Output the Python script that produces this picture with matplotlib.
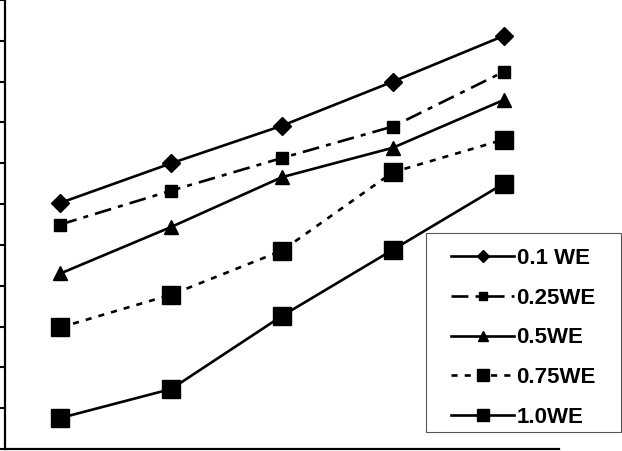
import matplotlib.pyplot as plt
from matplotlib.patches import Rectangle

plt.rcParams['font.family'] = ['Liberation Sans', 'DejaVu Sans']

x = [1, 2, 3, 4, 5]
labels = ['0.1 WE', '0.25WE', '0.5WE', '0.75WE', '1.0WE']
we_01 = [6.03, 7.0, 7.92, 9.0, 10.12]
we_025 = [5.5, 6.33, 7.13, 7.9, 9.24]
we_05 = [4.3, 5.44, 6.66, 7.38, 8.55]
we_075 = [2.98, 3.78, 4.86, 6.78, 7.58]
we_10 = [0.76, 1.47, 3.26, 4.88, 6.5]

fig = plt.figure(figsize=(6.22, 4.51), dpi=100)
ax = fig.add_axes([5/622, 2/451, 554/622, 449/451])

lw = 1.9
ax.plot(x, we_01, color='black', lw=lw, marker='D', ms=9, label=labels[0])
ax.plot(x, we_025, color='black', lw=lw, ls=(0, (6.4, 2.7, 1.9, 2.7)),
        marker='s', ms=9, label=labels[1])
ax.plot(x, we_05, color='black', lw=lw, marker='^', ms=10.5, label=labels[2])
ax.plot(x, we_075, color='black', lw=lw, ls=(0, (2.3, 2.7)),
        marker='s', ms=13, label=labels[3])
ax.plot(x, we_10, color='black', lw=lw, marker='s', ms=13, label=labels[4])

ax.set_xlim(0.5, 5.5)
ax.set_ylim(0, 11)
ax.set_yticks(range(0, 12))
ax.set_yticklabels([])
ax.set_xticks([])
ax.tick_params(axis='y', direction='out', length=5, width=1.5)
for s in ['top', 'right']:
    ax.spines[s].set_visible(False)
for s in ['left', 'bottom']:
    ax.spines[s].set_linewidth(1.6)

# legend box drawn separately so the padding matches the original
fig.patches.append(Rectangle((426/622, 1 - 432/451), 195/622, 199/451,
                             transform=fig.transFigure, fill=False,
                             ec='#555555', lw=0.8))
leg = ax.legend(loc='upper left', bbox_to_anchor=(451/622, 1 - 248/451),
                bbox_transform=fig.transFigure, borderaxespad=0, borderpad=0,
                frameon=False, prop={'weight': 'bold', 'size': 16},
                markerscale=0.7, handlelength=2.85, handletextpad=0.1,
                labelspacing=0.84)

fig.savefig('out.png', dpi=100)
